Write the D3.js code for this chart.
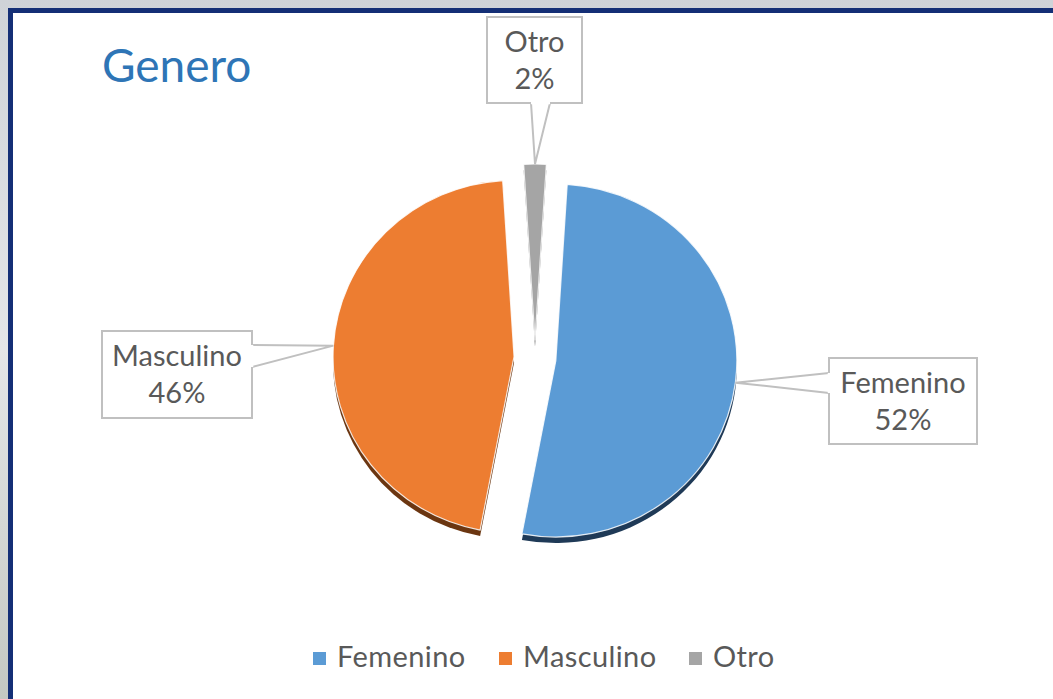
<!DOCTYPE html>
<html>
<head>
<meta charset="utf-8">
<script src="https://cdn.jsdelivr.net/npm/d3@7"></script>
<style>
  body { margin: 0; overflow: hidden; }
  text { font-family: Lato, "Open Sans", sans-serif; }
</style>
</head>
<body>
<div id="chart"></div>
<script>
// chart data
const categories = ['Femenino', 'Masculino', 'Otro'];
const values = [52, 46, 2];
const chartTitle = 'Genero';

// look and layout
const WIDTH = 1053;
const HEIGHT = 699;
const COLORS = ['#5b9bd5', '#ed7d31', '#a5a5a5'];
const WALLS = ['#1f3a57', '#6b3611', '#555555'];
const CENTER = { x: 535, y: 358 };
const RADIUS = 181;
const SQUASH = 0.975;       // slight 3d tilt
const DEPTH = 6;
const EXPLODE = [21, 21, 18];
const TEXT_COLOR = '#595959';
const FONT = 29;
// callout boxes: x, y, w, h and where the pointer leaves the box
const BOXES = [
    { x: 829, y: 358, w: 148, h: 86, side: 'left', a: 373, b: 393 },
    { x: 102, y: 331, w: 150, h: 87, side: 'right', a: 345, b: 367 },
    { x: 487, y: 17, w: 95, h: 86, side: 'bottom', a: 531, b: 550 }
];

let svg = d3.select('#chart')
    .append('svg')
    .attr('width', WIDTH)
    .attr('height', HEIGHT);

// grey backdrop and the navy frame
let defs = svg.append('defs');
let bg = defs.append('linearGradient')
    .attr('id', 'bg')
    .attr('x1', 0).attr('y1', 0).attr('x2', 0).attr('y2', 1);
bg.append('stop').attr('offset', 0).attr('stop-color', '#cfd3d8');
bg.append('stop').attr('offset', 0.5).attr('stop-color', '#e4e6e8');
bg.append('stop').attr('offset', 1).attr('stop-color', '#c4c8c2');

svg.append('rect')
    .attr('width', WIDTH)
    .attr('height', HEIGHT)
    .attr('fill', 'url(#bg)');

svg.append('rect')
    .attr('x', 10.5)
    .attr('y', 10.5)
    .attr('width', WIDTH + 40)
    .attr('height', HEIGHT + 40)
    .attr('fill', '#ffffff')
    .attr('stroke', '#142f76')
    .attr('stroke-width', 5);

svg.append('text')
    .attr('x', 102)
    .attr('y', 82)
    .attr('font-size', 46)
    .attr('fill', '#2e75b6')
    .text(chartTitle);

// pie
const total = d3.sum(values);
const start = 3.6 * Math.PI / 180;
let pie = d3.pie()
    .sort(null)
    .startAngle(start)
    .endAngle(start + 2 * Math.PI);
let arcs = pie(values);

let arc = d3.arc()
    .innerRadius(0)
    .outerRadius(RADIUS);

function offset(d, i) {
    let mid = (d.startAngle + d.endAngle) / 2;
    return {
        x: CENTER.x + EXPLODE[i] * Math.sin(mid),
        y: CENTER.y - EXPLODE[i] * Math.cos(mid) * SQUASH
    };
}

let pieG = svg.append('g');

// side wall, drawn first so the top covers it
pieG.selectAll('.wall')
    .data(arcs)
    .enter()
    .append('path')
    .attr('class', 'wall')
    .attr('transform', (d, i) => {
        let o = offset(d, i);
        return 'translate(' + o.x + ',' + (o.y + DEPTH) + ') scale(1,' + SQUASH + ')';
    })
    .attr('fill', (d, i) => WALLS[i])
    .attr('d', arc);

pieG.selectAll('.slice')
    .data(arcs)
    .enter()
    .append('path')
    .attr('class', 'slice')
    .attr('transform', (d, i) => {
        let o = offset(d, i);
        return 'translate(' + o.x + ',' + o.y + ') scale(1,' + SQUASH + ')';
    })
    .attr('fill', (d, i) => COLORS[i])
    .attr('stroke', '#ffffff')
    .attr('stroke-width', 1.2)
    .attr('stroke-opacity', 0.85)
    .attr('d', arc);

// callouts
arcs.forEach(function (d, i) {
    let mid = (d.startAngle + d.endAngle) / 2;
    let o = offset(d, i);
    let tip = {
        x: o.x + RADIUS * Math.sin(mid),
        y: o.y - RADIUS * Math.cos(mid) * SQUASH
    };
    let box = BOXES[i];
    let p1, p2;
    if (box.side === 'left') {
        p1 = [box.x, box.a]; p2 = [box.x, box.b];
    } else if (box.side === 'right') {
        p1 = [box.x + box.w, box.a]; p2 = [box.x + box.w, box.b];
    } else {
        p1 = [box.a, box.y + box.h]; p2 = [box.b, box.y + box.h];
    }
    let g = svg.append('g');
    g.append('rect')
        .attr('x', box.x)
        .attr('y', box.y)
        .attr('width', box.w)
        .attr('height', box.h)
        .attr('fill', '#ffffff')
        .attr('stroke', '#c0c0c0')
        .attr('stroke-width', 2);
    g.append('path')
        .attr('d', 'M' + p1[0] + ',' + p1[1] + 'L' + tip.x + ',' + tip.y + 'L' + p2[0] + ',' + p2[1])
        .attr('fill', '#ffffff')
        .attr('stroke', '#c0c0c0')
        .attr('stroke-width', 2);
    // cover the box edge under the pointer
    g.append('path')
        .attr('d', 'M' + p1[0] + ',' + p1[1] + 'L' + p2[0] + ',' + p2[1])
        .attr('stroke', '#ffffff')
        .attr('stroke-width', 2.5);
    g.append('text')
        .attr('x', box.x + box.w / 2)
        .attr('y', box.y + 35)
        .attr('text-anchor', 'middle')
        .attr('font-size', FONT)
        .attr('fill', TEXT_COLOR)
        .text(categories[i]);
    g.append('text')
        .attr('x', box.x + box.w / 2)
        .attr('y', box.y + 72)
        .attr('text-anchor', 'middle')
        .attr('font-size', FONT)
        .attr('fill', TEXT_COLOR)
        .text(Math.round(d.value / total * 100) + '%');
});

// legend
let legend = svg.append('g');
let legendX = [313, 499, 689];
categories.forEach(function (c, i) {
    let item = legend.append('g')
        .attr('transform', 'translate(' + legendX[i] + ',0)');
    item.append('rect')
        .attr('x', 0)
        .attr('y', 652)
        .attr('width', 13)
        .attr('height', 13)
        .attr('fill', COLORS[i]);
    item.append('text')
        .attr('x', 24)
        .attr('y', 667)
        .attr('font-size', FONT)
        .attr('letter-spacing', 0.4)
        .attr('fill', TEXT_COLOR)
        .text(c);
});
</script>
</body>
</html>
